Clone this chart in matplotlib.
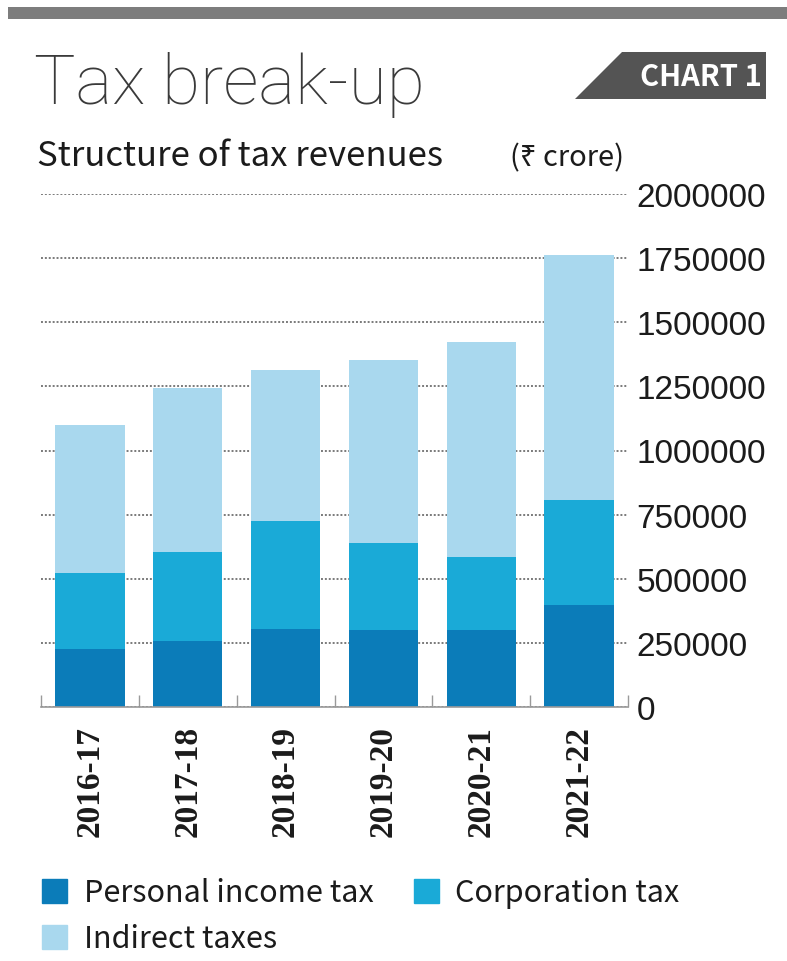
import matplotlib
matplotlib.use("Agg")
from matplotlib import pyplot as plt
from matplotlib.patches import Rectangle, Polygon

# structure of tax revenues, Rs crore
years = ["2016-17", "2017-18", "2018-19", "2019-20", "2020-21", "2021-22"]
personal_income = [226000, 258000, 304000, 300000, 300000, 399000]
corporation = [296000, 347000, 420000, 338000, 284000, 409000]
indirect = [578000, 638000, 591000, 716000, 838000, 954000]
yticks = [0, 250000, 500000, 750000, 1000000, 1250000, 1500000, 1750000, 2000000]

c_pit = "#0b7cb9"
c_corp = "#1aaad7"
c_ind = "#a9d8ee"
txt = "#1b1b1b"

sans = ["Noto Sans CJK JP", "Noto Sans", "DejaVu Sans"]
light = ["Noto Sans CJK JP Light", "Roboto", "Lato", "DejaVu Sans"]
nums = ["Liberation Sans", "DejaVu Sans"]
slab = ["Liberation Serif", "DejaVu Serif"]

W, H = 787, 962
fig = plt.figure(figsize=(W / 100, H / 100), dpi=100)
fig.patch.set_facecolor("white")

# grey strip across the top
fig.patches.append(Rectangle((8 / W, 1 - 20 / H), 1, 12 / H, transform=fig.transFigure,
                             facecolor="#7d7d7d", edgecolor="none"))

fig.text(34 / W, 1 - 104 / H, "Tax break-up", fontsize=50, color="#3a3a3a",
         family=light, fontweight="light", va="baseline")

# chart badge
badge = Polygon([(575 / W, 1 - 100 / H), (622 / W, 1 - 53 / H), (766 / W, 1 - 53 / H),
                 (766 / W, 1 - 100 / H)], closed=True, transform=fig.transFigure,
                facecolor="#545454", edgecolor="none")
fig.patches.append(badge)
fig.text(701 / W, 1 - 77 / H, "CHART 1", fontsize=21, color="white", fontweight="bold",
         family=sans, ha="center", va="center")

fig.text(37 / W, 1 - 166 / H, "Structure of tax revenues", fontsize=25, color=txt,
         family=sans, va="baseline")
fig.text(510 / W, 1 - 166 / H, "(₹ crore)", fontsize=21, color=txt,
         family=sans, va="baseline")

ax = fig.add_axes([41 / W, 1 - 708 / H, 587 / W, 513 / H])
x = list(range(len(years)))
mid = [a + b for a, b in zip(personal_income, corporation)]
ax.bar(x, personal_income, width=0.71, color=c_pit, zorder=3)
ax.bar(x, corporation, width=0.71, bottom=personal_income, color=c_corp, zorder=3)
ax.bar(x, indirect, width=0.71, bottom=mid, color=c_ind, zorder=3)

ax.set_xlim(-0.5, len(years) - 0.5)
ax.set_ylim(0, 2000000)
ax.set_yticks(yticks)
ax.set_yticklabels([str(v) for v in yticks])
ax.yaxis.tick_right()
ax.tick_params(axis="y", length=0, pad=6, labelsize=24, labelcolor=txt)
ax.grid(axis="y", linestyle=(0, (1, 1)), color="#7a7a7a", linewidth=1.4, zorder=1)

ax.set_xticks(x)
ax.set_xticklabels(years, rotation=90, fontweight="bold")
ax.tick_params(axis="x", length=0, pad=13, labelsize=24, labelcolor=txt)
ax.set_xticks([i - 0.5 for i in range(len(years) + 1)], minor=True)
ax.tick_params(axis="x", which="minor", direction="in", length=9, width=1, color="#9a9a9a")

for lab in ax.get_yticklabels():
    lab.set_family(nums)
for lab in ax.get_xticklabels():
    lab.set_family(slab)

for s in ["top", "left", "right"]:
    ax.spines[s].set_visible(False)
ax.spines["bottom"].set_color("#9a9a9a")
ax.spines["bottom"].set_linewidth(1.2)
ax.spines["bottom"].set_zorder(4)

# legend, two rows
handles = [Rectangle((0, 0), 1, 1, color=c_pit), Rectangle((0, 0), 1, 1, color=c_ind),
           Rectangle((0, 0), 1, 1, color=c_corp)]
labels = ["Personal income tax", "Indirect taxes", "Corporation tax"]
fig.legend(handles, labels, ncol=2, loc="upper left", bbox_to_anchor=(30 / W, 1 - 866 / H),
           frameon=False, handlelength=0.82, handleheight=0.82, handletextpad=0.55,
           columnspacing=1.3, labelspacing=0.5, borderaxespad=0,
           prop={"family": sans, "size": 22}, labelcolor=txt)

fig.savefig("out.png", dpi=100, facecolor="white")
